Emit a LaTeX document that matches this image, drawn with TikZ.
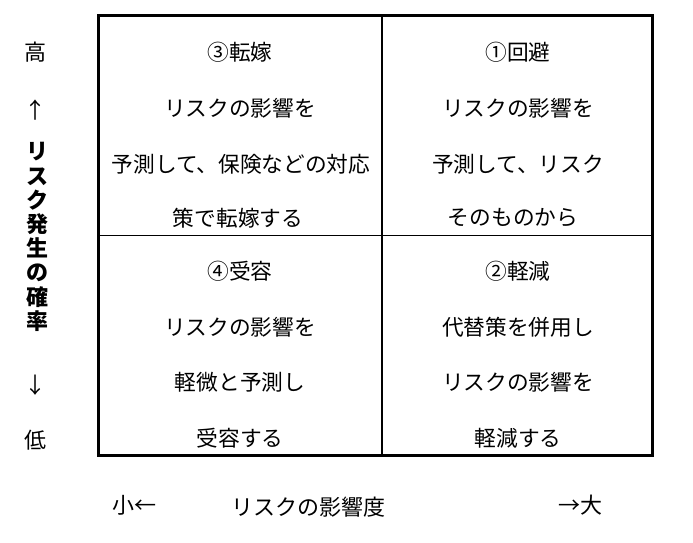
\documentclass[tikz,border=0pt]{standalone}
\usepackage{fontspec}
\setmainfont{Noto Sans CJK JP}
\begin{document}
\begin{tikzpicture}[x=1bp,y=-1bp,
  cell/.style={font=\fontsize{21.7bp}{24bp}\selectfont, inner sep=0pt, anchor=center},
  axis/.style={font=\fontsize{22bp}{24bp}\selectfont, inner sep=0pt, anchor=center},
  outer/.style={line width=3bp},
  inner/.style={line width=1.3bp}]
\useasboundingbox (0,0) rectangle (693,543);
\coordinate (tl) at (98.5,16);
\coordinate (br) at (652.5,455.5);
\coordinate (mt) at (382,16);
\coordinate (mb) at (382,455.5);
\coordinate (ml) at (98.5,235.5);
\coordinate (mr) at (652.5,235.5);
\draw[inner] (mt) -- (mb);
\draw[inner] (ml) -- (mr);
\draw[outer] (tl) rectangle (br);
% top-left
\node[cell] (a1) at (240,52) {③転嫁};
\node[cell] (a2) at (240,108) {リスクの影響を};
\node[cell] (a3) at (241,164) {予測して、保険などの対応};
\node[cell] (a4) at (238,218) {策で転嫁する};
% top-right
\node[cell] (b1) at (518,52) {①回避};
\node[cell] (b2) at (518,108) {リスクの影響を};
\node[cell] (b3) at (518,164) {予測して、リスク};
\node[cell] (b4) at (513,218) {そのものから};
% bottom-left
\node[cell] (c1) at (240,271) {④受容};
\node[cell] (c2) at (240,327) {リスクの影響を};
\node[cell] (c3) at (240,382) {軽微と予測し};
\node[cell] (c4) at (240,438) {受容する};
% bottom-right
\node[cell] (d1) at (518,271) {②軽減};
\node[cell] (d2) at (518,327) {代替策を併用し};
\node[cell] (d3) at (518,382) {リスクの影響を};
\node[cell] (d4) at (518,438) {軽減する};
% left axis
\node[axis] (hi) at (35,52) {高};
\node[axis] (up) at (35,110) {↑};
\node[axis, align=center, font=\fontsize{22bp}{24.2bp}\selectfont\bfseries] (yl) at (37,237) {リ\\ス\\ク\\発\\生\\の\\確\\率};
\node[axis] (dn) at (35,385) {↓};
\node[axis] (lo) at (35,440) {低};
% bottom axis
\node[axis] (sm) at (134,505) {小←};
\node[axis] (xl) at (308,507) {リスクの影響度};
\node[axis] (lg) at (580,505) {→大};
\end{tikzpicture}
\end{document}
